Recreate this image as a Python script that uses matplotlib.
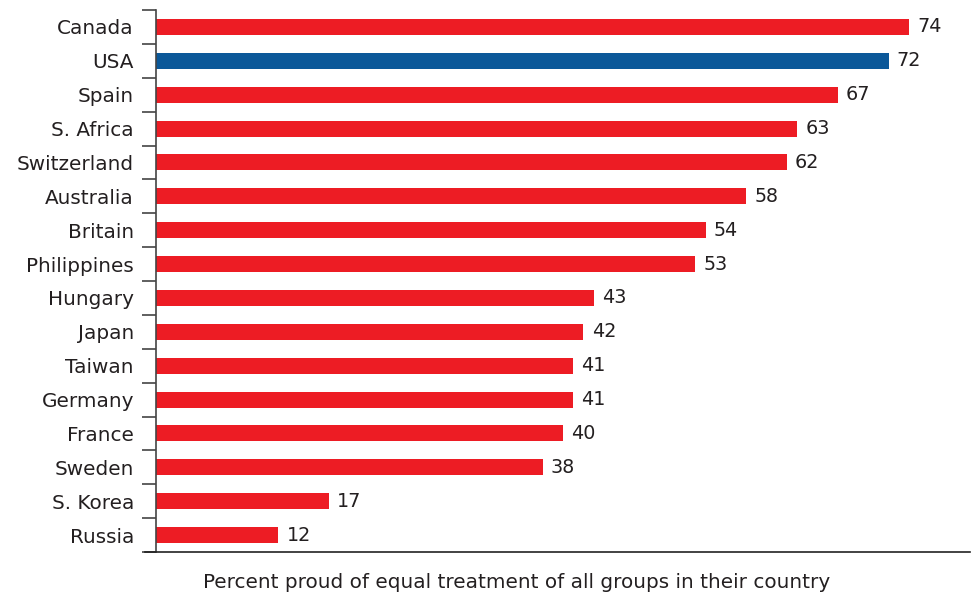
import numpy as np
import matplotlib.pyplot as plt

# ------------------------------------------------------ #
#                        Data                            #
# ------------------------------------------------------ #
countries = ["Canada", "USA", "Spain", "S. Africa", "Switzerland", "Australia",
             "Britain", "Philippines", "Hungary", "Japan", "Taiwan", "Germany",
             "France", "Sweden", "S. Korea", "Russia"]
values = [74, 72, 67, 63, 62, 58, 54, 53, 43, 42, 41, 41, 40, 38, 17, 12]
highlight = "USA"
xlabel = "Percent proud of equal treatment of all groups in their country"

red = "#ED1C24"
blue = "#0B5899"
txt = "#231F20"
fs = 14.4

plt.rcParams['font.family'] = ['DejaVu Sans']

# ------------------------------------------------------ #
#                        Plot                            #
# ------------------------------------------------------ #
fig = plt.figure(figsize=(9.73, 5.94), dpi=100)
ax = fig.add_axes([145 / 973, 42 / 594, 825 / 973, 542 / 594])

y = np.arange(len(countries))
colors = [blue if c == highlight else red for c in countries]
ax.barh(y, values, height=0.47, color=colors, zorder=2)

for yi, v in zip(y, values):
    ax.text(v + 0.8, yi, str(v), va='center', ha='left', fontsize=13.8, color=txt)

ax.set_ylim(len(countries) - 0.5, -0.5)
ax.set_xlim(-1.1, 80)

# boundary ticks (major) and category labels (minor)
ax.set_yticks(np.arange(len(countries) + 1) - 0.5)
ax.set_yticklabels([])
ax.set_yticks(y, minor=True)
ax.set_yticklabels(countries, minor=True)
ax.tick_params(axis='y', which='major', length=10, width=1.2, color='#444444')
ax.tick_params(axis='y', which='minor', length=0, pad=16, labelsize=fs, labelcolor=txt)
ax.set_xticks([])

for s in ['top', 'right']:
    ax.spines[s].set_visible(False)
ax.spines['left'].set_position(('data', 0))
ax.spines['left'].set_color('#444444')
ax.spines['left'].set_linewidth(1.2)
ax.spines['bottom'].set_color('#222222')
ax.spines['bottom'].set_linewidth(1.2)

fig.text(517 / 973, 11 / 594, xlabel, ha='center', va='center', fontsize=fs, color=txt)

fig.savefig("out.png", dpi=100)
